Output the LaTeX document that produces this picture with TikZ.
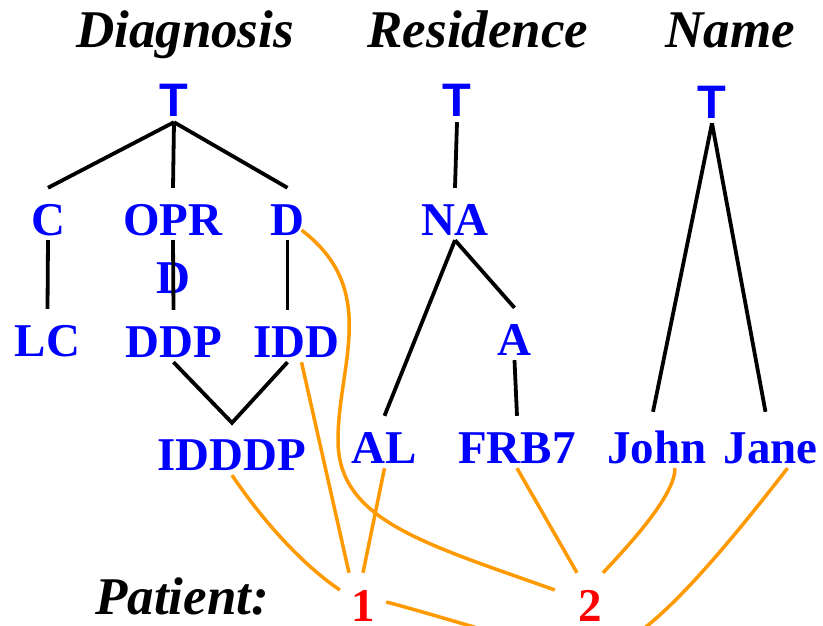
\documentclass[tikz,border=0pt]{standalone}
\usepackage{fontspec}
\setmainfont{Liberation Serif}
\newfontfamily\tsans{Liberation Sans}
\usetikzlibrary{calc}
\definecolor{lblblue}{RGB}{0,0,255}
\definecolor{linkorange}{RGB}{255,153,0}
\definecolor{idred}{RGB}{255,0,0}

\begin{document}
\begin{tikzpicture}[x=1pt,y=-1pt,
  hdr/.style={anchor=base, inner sep=0pt, font=\fontsize{53}{60}\selectfont\bfseries\itshape},
  lbl/.style={anchor=base, inner sep=0pt, text height=47pt, text depth=5pt,
              text=lblblue, font=\fontsize{47}{56}\selectfont\bfseries},
  topsym/.style={lbl, font=\fontsize{47}{56}\selectfont\tsans\bfseries},
  pid/.style={anchor=base, inner sep=0pt, text height=48pt, text depth=0pt,
              minimum width=46pt, text=idred, font=\fontsize{47}{56}\selectfont\bfseries},
  tree/.style={line width=3.8pt, black},
  link/.style={line width=3.5pt, linkorange}]

\useasboundingbox (0,0) rectangle (823,626);
\clip (0,0) rectangle (823,626);

% attribute headings
\node[hdr] (hdiag) at (185,48) {Diagnosis};
\node[hdr] (hres)  at (478,48) {Residence};
\node[hdr] (hname) at (730,48) {Name};
\node[hdr] (hpat)  at (182,614) {Patient:};

% Diagnosis hierarchy
\node[topsym] (tD) at (174,117) {T};
\node[lbl] (c)     at (48,235)    {C};
\node[lbl] (opr)   at (173,235)   {OPR};
\node[lbl] (oprd)  at (173,293)   {D};
\node[lbl] (d)     at (287.5,235) {D};
\node[lbl] (lc)    at (47.5,356)  {LC};
\node[lbl] (ddp)   at (173.5,357) {DDP};
\node[lbl] (idd)   at (296.5,357) {IDD};
\node[lbl] (idddp) at (232,470)   {IDDDP};

% Residence hierarchy
\node[topsym] (tR) at (457,117) {T};
\node[lbl] (na)  at (455,235)   {NA};
\node[lbl] (a)   at (514.5,355) {A};
\node[lbl] (al)  at (384.5,463) {AL};
\node[lbl] (frb) at (517,463)   {FRB7};

% Name hierarchy
\node[topsym] (tN) at (712,118) {T};
\node[lbl] (john) at (657,463)   {John};
\node[lbl] (jane) at (770.5,463) {Jane};

% patient identifiers
\node[pid] (n1) at (363,621) {1};
\node[pid] (n2) at (590,621) {2};

% generalisation edges
\draw[tree] (tD.south) -- (c.north);
\draw[tree] (tD.south) -- (opr.north);
\draw[tree] (tD.south) -- (d.north);
\draw[tree] (c.south) -- (lc.north);
\draw[tree] (opr.south) -- (ddp.north);
\draw[tree] (d.south) -- (d.south |- idd.north);
\draw[tree] (ddp.south) -- (idddp.north) -- ($(idd.south)+(-9,0)$);
\draw[tree] (tR.south) -- (na.north);
\draw[tree] (na.south) -- (al.north);
\draw[tree] (na.south) -- (a.north);
\draw[tree] (a.south) -- (frb.north);
\draw[tree] (tN.south) -- ($(john.north)+(-4,-4)$);
\draw[tree] (tN.south) -- ($(jane.north)+(-5,-4)$);

% links from values to patients
\coordinate (bend) at (338,440);
\coordinate (dip)  at (595,652);
\draw[link] (idddp.south) .. controls (261,518) and (299,562) .. ($(n1.west)+(0,-7)$);
\draw[link] ($(idd.south)+(5,0)$) -- ($(n1.north)+(-14,0)$);
\draw[link] (al.south) -- (n1.north);
\draw[link] ($(d.south east)+(-3,-10)$) .. controls (380,290) and (338,365) .. (bend)
            .. controls (338,520) and (423,543) .. ($(n2.west)+(-12,-7)$);
\draw[link] (frb.south) -- ($(n2.north)+(-13,0)$);
\draw[link] ($(john.south)+(18,0)$) .. controls (675,495) and (631,543) .. ($(n2.north)+(13,0)$);
\draw[link] ($(n1.east)+(0,5)$) .. controls (454,619.5) and (545,652) .. (dip)
            .. controls (640,652) and (720,555) .. ($(jane.south)+(17,0)$);
\end{tikzpicture}
\end{document}
